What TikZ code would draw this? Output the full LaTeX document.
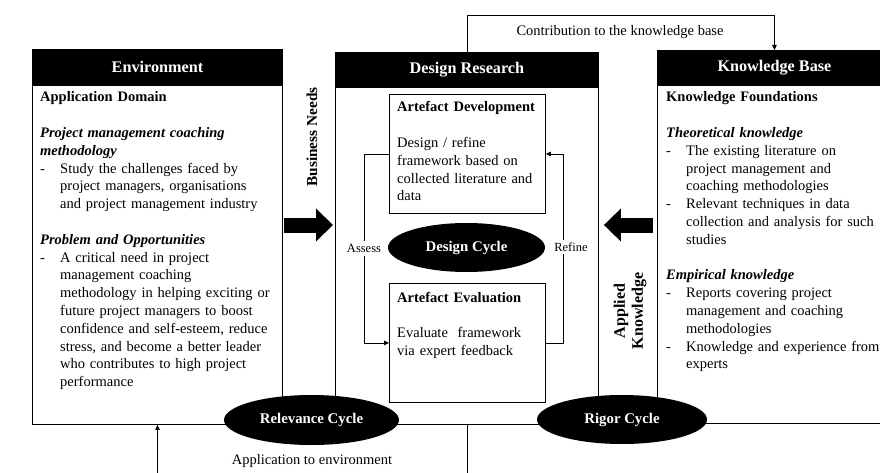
\documentclass[tikz,border=0pt]{standalone}
\usepackage{fontspec}
\setmainfont{Liberation Serif}
\usetikzlibrary{arrows.meta,shapes.geometric}
\newcommand\bodyfs{\fontsize{14.5}{17.8}\selectfont}
\newcommand\headfs{\fontsize{16.2}{19}\selectfont\bfseries}
\newcommand\smallfs{\fontsize{12.5}{15}\selectfont}
\newcommand\mybul{\makebox[20pt][l]{-}}
\newcommand\myind{\hspace*{20pt}}
\begin{document}
\begin{tikzpicture}[x=1pt,y=-1pt,
  boxs/.style={draw, line width=0.9pt, inner sep=0pt, anchor=north west},
  hdr/.style={fill=black, draw, line width=0.9pt, inner sep=0pt, anchor=north west, text=white, font=\headfs},
  cyc/.style={ellipse, fill=black, inner sep=0pt, text=white, font=\fontsize{14.8}{17}\selectfont\bfseries},
  body/.style={anchor=base west, inner sep=0pt, text width=260pt, align=left, font=\bodyfs},
  conn/.style={line width=0.8pt, -{Triangle[length=5pt,width=4.5pt]}},
  big/.style={line width=15pt, -{Triangle[length=17pt,width=32pt]}},
  lbl/.style={font=\bodyfs, inner sep=0pt}
]
\useasboundingbox (0,0) rectangle (880,473);
\clip (0,0) rectangle (880,473);

% main boxes
\node[boxs, minimum width=250pt, minimum height=375pt] (env) at (32,49) {};
\node[hdr, minimum width=250pt, minimum height=36pt] (envh) at (32,49) {Environment};
\node[boxs, minimum width=263pt, minimum height=372pt] (dr) at (335,52) {};
\node[hdr, minimum width=263pt, minimum height=35pt] (drh) at (335,52) {Design Research};
\node[boxs, minimum width=234pt, minimum height=373pt] (kb) at (657,50) {};
\node[hdr, minimum width=234pt, minimum height=35pt] (kbh) at (657,50) {Knowledge Base};

% inner boxes
\node[boxs, minimum width=156pt, minimum height=119pt] (dev) at (389,94) {};
\node[boxs, minimum width=156pt, minimum height=119pt] (eval) at (389,283) {};

% texts
\node[body] (envt) at (40,102) {\textbf{Application Domain}\\[17.8pt]
\textbf{\textit{Project management coaching}}\\
\textbf{\textit{methodology}}\\
\mybul Study the challenges faced by\\
\myind project managers, organisations\\
\myind and project management industry\\[17.8pt]
\textbf{\textit{Problem and Opportunities}}\\
\mybul A critical need in project\\
\myind management coaching\\
\myind methodology in helping exciting or\\
\myind future project managers to boost\\
\myind confidence and self-esteem, reduce\\
\myind stress, and become a better leader\\
\myind who contributes to high project\\
\myind performance};

\node[body] (devt) at (397,112) {\textbf{Artefact Development}\\[17.8pt]
Design / refine\\
framework based on\\
collected literature and\\
data};

\node[body] (evalt) at (397,302) {\textbf{Artefact Evaluation}\\[17.8pt]
Evaluate\ \ framework\\
via expert feedback};

\node[body] (kbt) at (666,102) {\textbf{Knowledge Foundations}\\[17.8pt]
\textbf{\textit{Theoretical knowledge}}\\
\mybul The existing literature on\\
\myind project management and\\
\myind coaching methodologies\\
\mybul Relevant techniques in data\\
\myind collection and analysis for such\\
\myind studies\\[17.8pt]
\textbf{\textit{Empirical knowledge}}\\
\mybul Reports covering project\\
\myind management and coaching\\
\myind methodologies\\
\mybul Knowledge and experience from\\
\myind experts};

% rotated labels
\node[rotate=90, inner sep=0pt, font=\fontsize{15.3}{18}\selectfont\bfseries] (bneeds) at (312,137) {Business Needs};
\node[rotate=90, inner sep=0pt, align=center, font=\fontsize{16}{18}\selectfont\bfseries] (ak) at (630,311) {Applied\\Knowledge};

% big arrows
\coordinate (bn) at (0,225);
\draw[big, shorten <=1.5pt, shorten >=2pt] (env.east |- bn) -- (dr.west |- bn);
\draw[big, shorten <=4pt, shorten >=5pt] (kb.west |- bn) -- (dr.east |- bn);

% design cycle connectors
\draw[conn] (dev.west) -- ++(-25,0) |- (eval.west)
  node[pos=0.25, fill=white, inner sep=3pt, font=\smallfs] (assess) {Assess};
\draw[conn] (eval.east) -- ++(17,0) |- (dev.east);
\node[fill=white, inner sep=3pt, font=\smallfs] (refine) at (571,247) {Refine};

% outer connectors
\draw[conn] (dr.north) -- ++(0,-37) -| (kb.north);
\node[lbl, anchor=base] (contrib) at (620,36) {Contribution to the knowledge base};
\draw[conn] (dr.south) -- ++(0,70) -| (env.south);
\node[lbl] (appl) at (312,461) {Application to environment};

% cycles
\node[cyc, minimum width=157pt, minimum height=49pt] (dc) at (466.5,247.5) {Design Cycle};
\node[cyc, minimum width=175pt, minimum height=50pt] (rel) at (311.5,420) {Relevance Cycle};
\node[cyc, minimum width=170pt, minimum height=49pt] (rig) at (622,419.5) {Rigor Cycle};
\end{tikzpicture}
\end{document}
